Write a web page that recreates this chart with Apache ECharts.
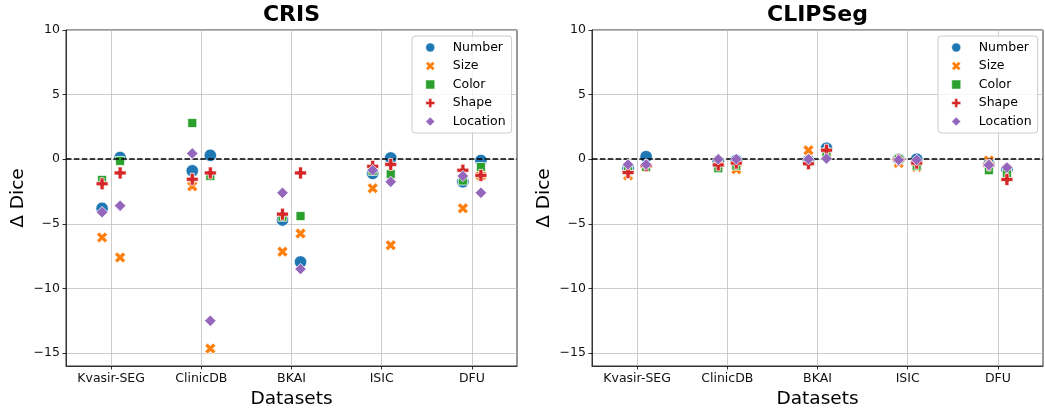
<!DOCTYPE html>
<html>
<head>
<meta charset="utf-8">
<script src="https://cdn.jsdelivr.net/npm/echarts@6/dist/echarts.min.js"></script>
<style>
html,body{margin:0;padding:0;background:#fff;}
#chart{width:1045px;height:408px;}
</style>
</head>
<body>
<div id="chart"></div>
<script>
// ---- Data ----
const categories = ['Kvasir-SEG', 'ClinicDB', 'BKAI', 'ISIC', 'DFU'];
const attributes = ['Number', 'Size', 'Color', 'Shape', 'Location'];
const yTicks = [-15, -10, -5, 0, 5, 10];
const panelTitles = ['CRIS', 'CLIPSeg'];
// each array: per dataset two values [first variant, second variant]
const crisNumber   = [-3.8, 0.13,  -0.9, 0.3,   -4.7, -7.95,  -1.1, 0.1,   -1.75, -0.1];
const crisSize     = [-6.05, -7.6, -2.1, -14.65, -7.15, -5.75, -2.25, -6.65, -3.8, -1.25];
const crisColor    = [-1.6, -0.13,  2.8, -1.3,   -4.45, -4.4,  -0.9, -1.15, -1.65, -0.6];
const crisShape    = [-1.9, -1.06, -1.55, -1.06, -4.25, -1.06, -0.55, -0.4, -0.85, -1.25];
const crisLocation = [-4.1, -3.6,   0.45, -12.5, -2.6, -8.5,   -0.85, -1.75, -1.3, -2.6];
const clipNumber   = [-0.7, 0.2,  -0.2, -0.1,  -0.1, 0.85,  0.0, 0.0,   -0.4, -0.8];
const clipSize     = [-1.25, -0.6, -0.5, -0.78, 0.7, 0.5,   -0.3, -0.6,  -0.1, -0.8];
const clipColor    = [-0.9, -0.6,  -0.7, -0.5,  -0.2, 0.3,   0.0, -0.5,  -0.85, -1.1];
const clipShape    = [-1.03, -0.5, -0.44, -0.3, -0.35, 0.7, -0.05, -0.3, -0.45, -1.57];
const clipLocation = [-0.41, -0.41, 0.0, 0.0,   0.0, 0.05,  -0.05, -0.05, -0.45, -0.64];

const panels = [
  [crisNumber, crisSize, crisColor, crisShape, crisLocation],
  [clipNumber, clipSize, clipColor, clipShape, clipLocation]
];

// ---- Style ----
const colors = ['#1f77b4', '#ff7f0e', '#2ca02c', '#d62728', '#9467bd'];
const X_PATH = 'path://M2.5,0L5,2.5L7.5,0L10,2.5L7.5,5L10,7.5L7.5,10L5,7.5L2.5,10L0,7.5L2.5,5L0,2.5Z';
const P_PATH = 'path://M3.3,0H6.7V3.3H10V6.7H6.7V10H3.3V6.7H0V3.3H3.3Z';
const symbols = ['circle', X_PATH, 'rect', P_PATH, 'diamond'];
const symbolSizes = [12.5, 11, 9, 12, 11.5];
const FONT = 'DejaVu Sans';
const dodge = 0.1;

const grids = [
  {left: 66, top: 30, width: 451, height: 336},
  {left: 592, top: 30, width: 451, height: 336}
];

const chart = echarts.init(document.getElementById('chart'), null, {renderer: 'canvas'});

const fmtNum = v => String(v).replace('-', '\u2212');
const catIdx = categories.map((c, i) => i);

const option = {
  animation: false,
  backgroundColor: '#fff',
  textStyle: {fontFamily: FONT},
  graphic: panelTitles.map((t, p) => ({
    type: 'text',
    x: grids[p].left + grids[p].width / 2,
    y: 15,
    style: {text: t, textAlign: 'center', textVerticalAlign: 'middle',
            font: 'bold 22px "DejaVu Sans"', fill: '#000'}
  })),
  grid: grids.map(g => Object.assign({show: true, borderColor: '#333', borderWidth: 1,
                                      backgroundColor: 'transparent',
                                      containLabel: false, outerBoundsMode: 'none'}, g)),
  legend: panels.map((_, p) => ({
    data: attributes.map((n, a) => ({
      name: n,
      icon: symbols[a],
      itemStyle: {color: colors[a], borderColor: '#fff', borderWidth: 0.5}
    })),
    orient: 'vertical',
    left: grids[p].left + grids[p].width - 105,
    top: 36,
    itemWidth: 9,
    itemHeight: 9,
    itemGap: 5.5,
    symbolKeepAspect: true,
    padding: [5, 6, 5, 13.5],
    borderColor: '#cccccc',
    borderWidth: 1,
    borderRadius: 3,
    backgroundColor: 'rgba(255,255,255,0.8)',
    selectedMode: false,
    textStyle: {fontFamily: FONT, fontSize: 12.5, color: '#000', lineHeight: 13,
                padding: [0, 0, 0, 13]},
    z: 20
  })),
  xAxis: panels.map((_, p) => ({
    type: 'value',
    gridIndex: p,
    min: -0.5,
    max: 4.5,
    name: 'Datasets',
    nameLocation: 'middle',
    nameGap: 23,
    nameTextStyle: {fontFamily: FONT, fontSize: 18.5, color: '#000'},
    axisLine: {show: true, onZero: false, lineStyle: {color: '#333', width: 1}},
    axisTick: {show: true, length: 3.5, customValues: catIdx, lineStyle: {color: '#000', width: 0.8}},
    axisLabel: {show: true, customValues: catIdx, margin: 6,
                formatter: v => categories[Math.round(v)] || '',
                fontFamily: FONT, fontSize: 12.5, color: '#111'},
    splitLine: {show: true, lineStyle: {color: '#c0c0c0', width: 0.8}}
  })),
  yAxis: panels.map((_, p) => ({
    type: 'value',
    gridIndex: p,
    min: -16,
    max: 10,
    name: '\u0394 Dice',
    nameLocation: 'middle',
    nameGap: 38,
    nameTextStyle: {fontFamily: FONT, fontSize: 18.5, color: '#000'},
    axisLine: {show: true, onZero: false, lineStyle: {color: '#333', width: 1}},
    axisTick: {show: true, length: 3.5, customValues: yTicks, lineStyle: {color: '#000', width: 0.8}},
    axisLabel: {show: true, customValues: yTicks, margin: 6, formatter: fmtNum,
                fontFamily: FONT, fontSize: 12.5, color: '#111'},
    splitLine: {show: true, lineStyle: {color: '#c0c0c0', width: 0.8}}
  })),
  series: []
};

panels.forEach((vals, p) => {
  attributes.forEach((name, a) => {
    const data = vals[a].map((v, i) => [Math.floor(i / 2) + (i % 2 === 0 ? -dodge : dodge), v]);
    option.series.push({
      type: 'scatter',
      name: name,
      xAxisIndex: p,
      yAxisIndex: p,
      data: data,
      symbol: symbols[a],
      symbolSize: symbolSizes[a],
      symbolKeepAspect: true,
      itemStyle: {color: colors[a], opacity: 1, borderColor: '#fff', borderWidth: 0.75},
      z: 2 + a
    });
  });
  // dashed zero line
  option.series.push({
    type: 'line',
    xAxisIndex: p,
    yAxisIndex: p,
    data: [],
    z: 10,
    markLine: {
      silent: true,
      symbol: 'none',
      label: {show: false},
      lineStyle: {color: '#000', type: [5.5, 2.4], width: 1.5},
      data: [{yAxis: 0}]
    }
  });
});

chart.setOption(option);
</script>
</body>
</html>
